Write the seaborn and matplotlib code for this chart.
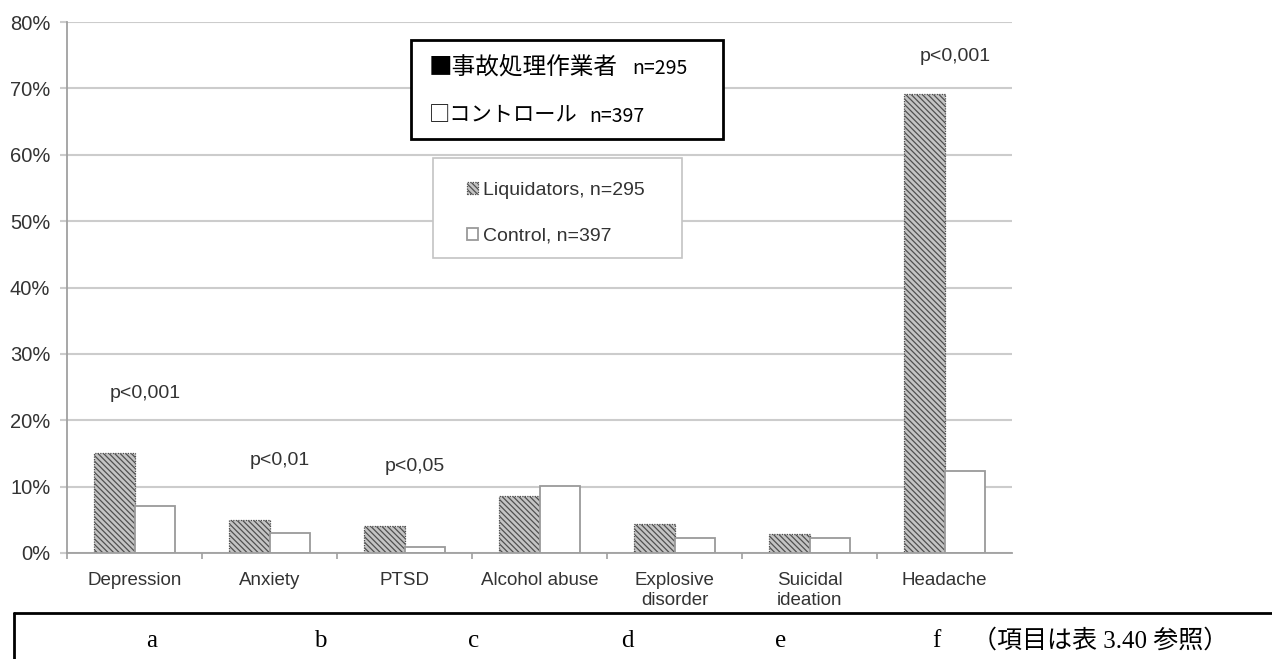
import numpy as np
import pandas as pd
import matplotlib
matplotlib.use("Agg")
import matplotlib.pyplot as plt
from matplotlib.patches import Rectangle
from matplotlib.lines import Line2D
from matplotlib.ticker import FuncFormatter
import seaborn as sns

# ---------------- data ----------------
categories = ["Depression", "Anxiety", "PTSD", "Alcohol abuse",
              "Explosive\ndisorder", "Suicidal\nideation", "Headache"]
liquidators = [15.0, 5.0, 4.0, 8.6, 4.4, 2.8, 69.2]
control = [7.1, 3.0, 0.95, 10.1, 2.3, 2.3, 12.3]
groups = ["Liquidators", "Control"]
legend_labels = ["Liquidators, n=295", "Control, n=397"]
jp_legend = [("■事故処理作業者", "n=295"), ("□コントロール", "n=397")]
p_texts = ["p<0,001", "p<0,01", "p<0,05", "p<0,001"]
p_cats = [0, 1, 2, 6]
p_levels = [24.1, 13.9, 13.1, 74.8]
bottom_letters = ["a", "b", "c", "d", "e", "f"]
bottom_note = "（項目は表 3.40 参照）"
y_ticks = list(range(0, 90, 10))

# ---------------- style ----------------
sns.set_style("white")
plt.rcParams["font.family"] = ["Liberation Sans", "Noto Sans CJK JP", "DejaVu Sans"]
plt.rcParams["hatch.linewidth"] = 0.9

W, H = 1272, 659
def px(x, y):
    return (x / W, 1 - y / H)

fig = plt.figure(figsize=(W / 100, H / 100), dpi=100)
ax = fig.add_axes([67 / W, (H - 553) / H, (1012 - 67) / W, (553 - 22) / H])

df = pd.DataFrame({
    "category": categories * 2,
    "group": [groups[0]] * len(categories) + [groups[1]] * len(categories),
    "value": liquidators + control,
})
sns.barplot(data=df, x="category", y="value", hue="group", hue_order=groups,
            palette={groups[0]: "#c4c4c4", groups[1]: "white"}, saturation=1,
            width=0.6, ax=ax, legend=False, errorbar=None)

for bar in ax.containers[0]:
    bar.set_hatch("\\\\\\\\\\\\")
    bar.set_edgecolor("#505050")
    bar.set_linewidth(0.9)
    bar.set_linestyle((0, (1, 1)))
for bar in ax.containers[1]:
    bar.set_edgecolor("#9a9a9a")
    bar.set_linewidth(1.3)

ax.set_xlim(-0.5, len(categories) - 0.5)
ax.set_ylim(0, 80)
ax.set_yticks(y_ticks)
ax.yaxis.set_major_formatter(FuncFormatter(lambda v, _: f"{v:.0f}%"))
ax.set_xlabel("")
ax.set_ylabel("")
ax.grid(axis="y", color="#cccccc", linewidth=1.5)
ax.grid(axis="x", visible=False)
ax.set_axisbelow(True)
for s in ["top", "right"]:
    ax.spines[s].set_visible(False)
for s in ["left", "bottom"]:
    ax.spines[s].set_color("#a0a0a0")
    ax.spines[s].set_linewidth(1.3)

ax.set_xticks(np.arange(-0.5, len(categories) - 1, 1), minor=True)
ax.tick_params(axis="x", which="minor", length=4.5, color="#a0a0a0", width=1.2,
               direction="out", bottom=True)
ax.tick_params(axis="x", which="major", length=0, pad=14, labelsize=13.5,
               labelcolor="#333333")
ax.tick_params(axis="y", length=5, color="#cccccc", width=1.5, pad=7,
               labelsize=14.5, labelcolor="#333333", left=True)

# p-value annotations
for t, c, lv in zip(p_texts, p_cats, p_levels):
    ax.text(c + 0.08, lv, t, ha="center", va="center", fontsize=14,
            color="#333333")

# English legend (white box with grey border)
fig.add_artist(Rectangle(px(433, 258), 249 / W, 100 / H, transform=fig.transFigure,
                         facecolor="white", edgecolor="#c4c4c4", linewidth=1.2,
                         zorder=1))
leg = fig.legend(handles=[ax.containers[0], ax.containers[1]], labels=legend_labels,
                 loc="upper left", bbox_to_anchor=px(457, 172),
                 frameon=False, borderpad=0, handlelength=0.6, handleheight=0.6,
                 handletextpad=0.25, labelspacing=1.5, fontsize=14,
                 labelcolor="#333333")

# Japanese legend box
fig.add_artist(Rectangle(px(411, 139), (723 - 411) / W, (139 - 40) / H,
                         transform=fig.transFigure, facecolor="white",
                         edgecolor="black", linewidth=2, zorder=1))
jp_rows_y = [67, 115]
jp_num_x = [632, 589]
jp_sizes = [17, 15.3]
for (jp, n), yy, nx, fs in zip(jp_legend, jp_rows_y, jp_num_x, jp_sizes):
    fig.text(*px(429, yy), jp, ha="left", va="center", fontsize=fs,
             family=["Noto Sans CJK JP"], color="black")
    fig.text(*px(nx, yy + 1), n, ha="left", va="center", fontsize=14,
             family=["Noto Sans CJK JP"], color="black")

# bottom reference box
fig.add_artist(Line2D([14 / W, 1.0], [1 - 613 / H] * 2, transform=fig.transFigure,
                      color="black", linewidth=2))
fig.add_artist(Line2D([14 / W, 14 / W], [1 - 613 / H, 0], transform=fig.transFigure,
                      color="black", linewidth=2))
letter_x = [152, 320, 474, 627, 781, 936]
for L, lx in zip(bottom_letters, letter_x):
    fig.text(*px(lx, 641), L, ha="center", va="center", fontsize=18,
             family=["Liberation Serif", "Noto Sans CJK JP"], color="black")
fig.text(*px(972, 641), bottom_note, ha="left", va="center", fontsize=18,
         family=["Liberation Serif", "Noto Sans CJK JP"], color="black")

fig.savefig("out.png", dpi=100, facecolor="white")
